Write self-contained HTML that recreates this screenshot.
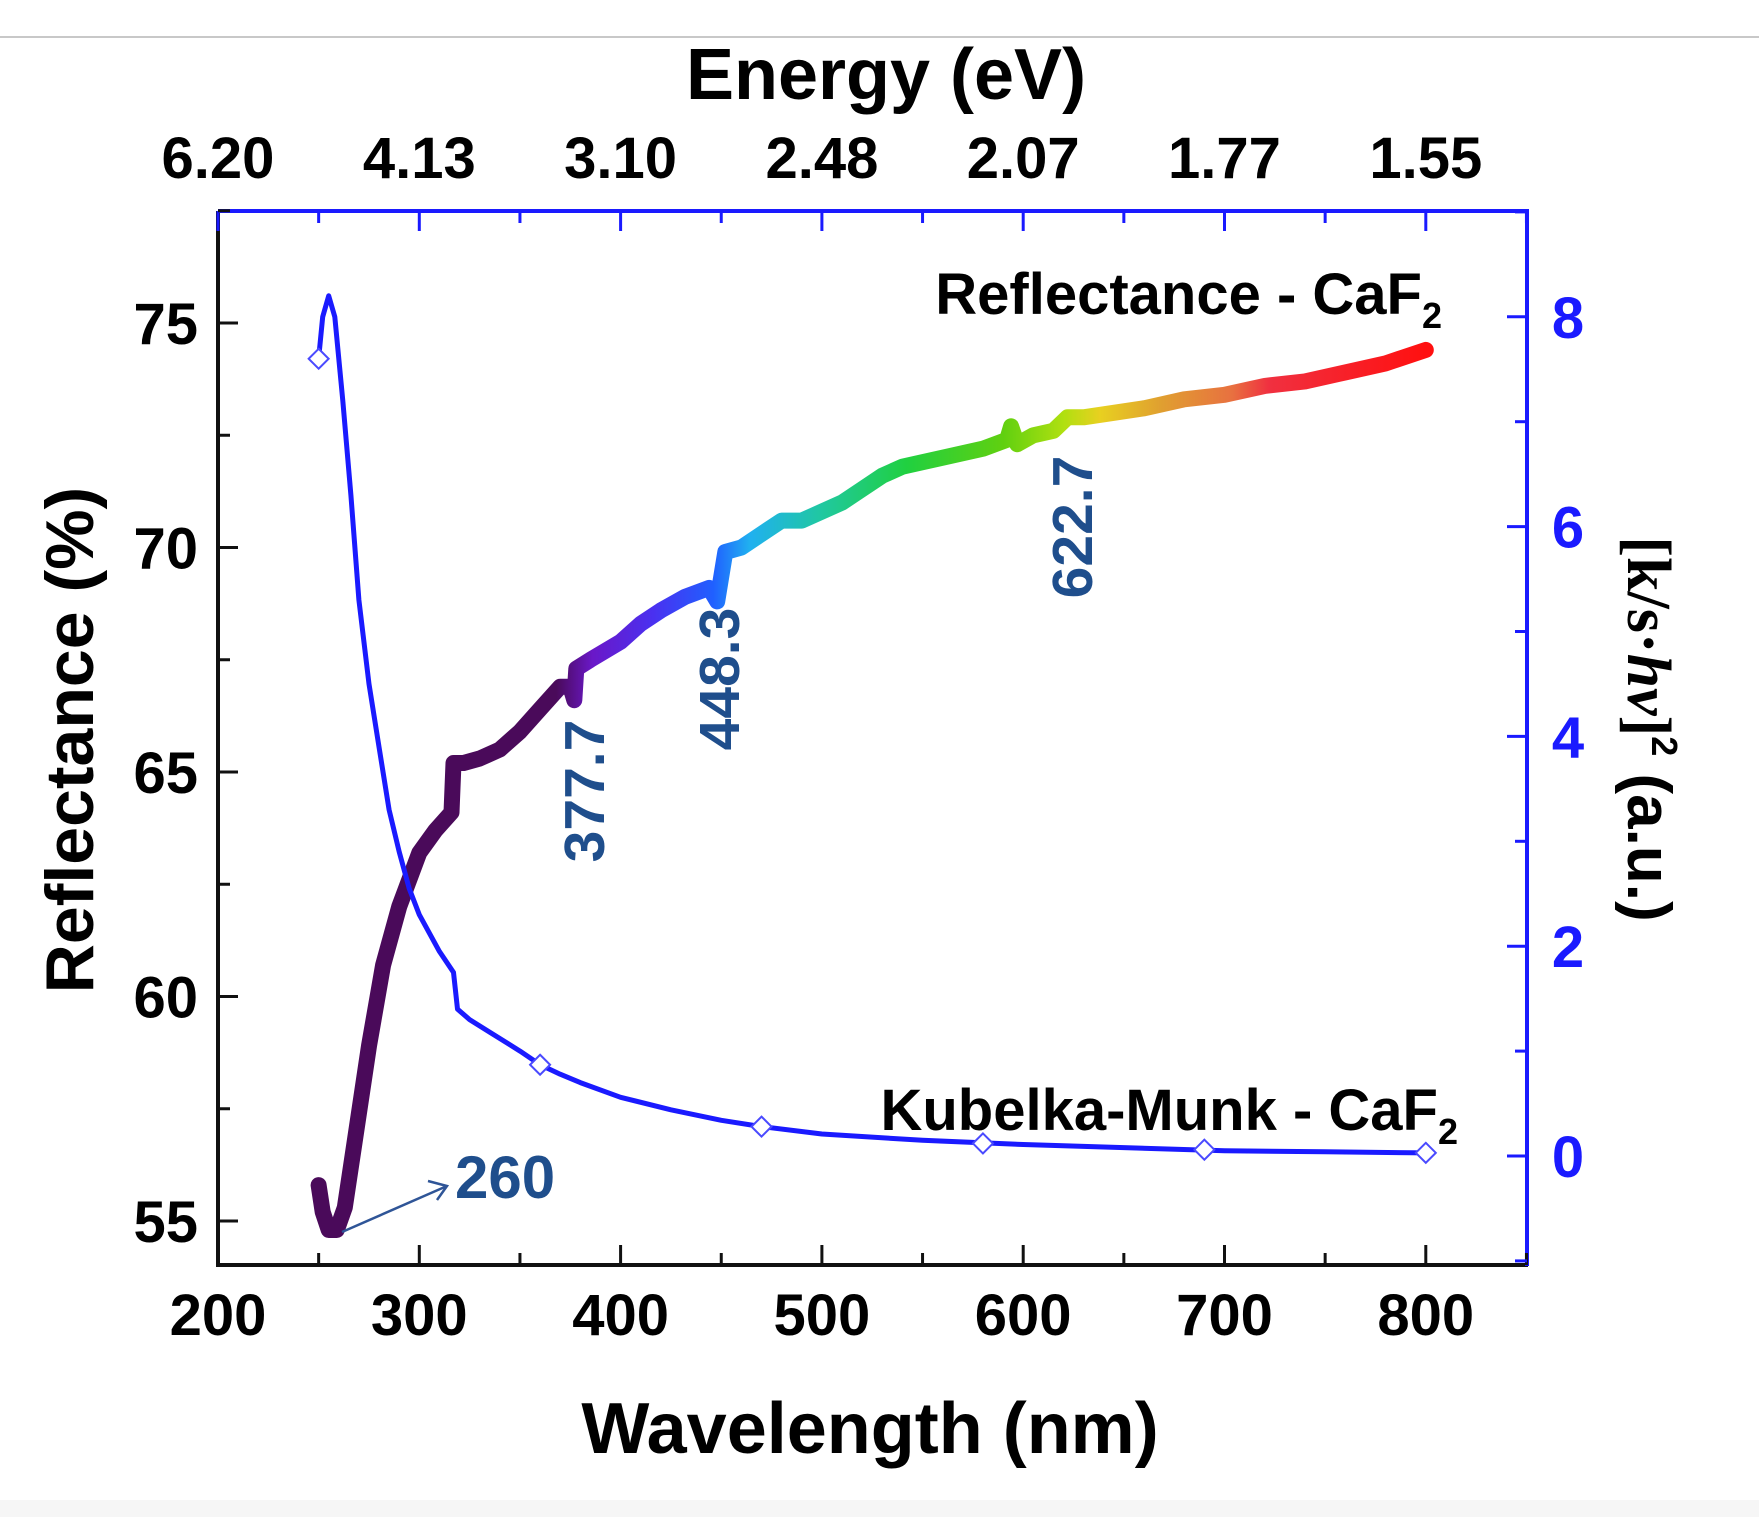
<!DOCTYPE html>
<html><head><meta charset="utf-8"><style>
html,body{margin:0;padding:0;background:#fff;}
svg{display:block;font-family:"Liberation Sans",Arial,sans-serif;font-weight:bold;}
</style></head><body>
<svg id="s" width="1759" height="1517" viewBox="0 0 1759 1517" xmlns="http://www.w3.org/2000/svg">
<defs>
<linearGradient id="rg" gradientUnits="userSpaceOnUse" x1="218" y1="0" x2="1426" y2="0">
<stop offset="0" stop-color="#4a0a5a"/>
<stop offset="0.28" stop-color="#4a0a5a"/>
<stop offset="0.31" stop-color="#6a18c8"/>
<stop offset="0.36" stop-color="#4a30f0"/>
<stop offset="0.41" stop-color="#2060ff"/>
<stop offset="0.44" stop-color="#20b0f0"/>
<stop offset="0.50" stop-color="#20c8a0"/>
<stop offset="0.57" stop-color="#20d040"/>
<stop offset="0.65" stop-color="#60d010"/>
<stop offset="0.70" stop-color="#b0e010"/>
<stop offset="0.73" stop-color="#e8d020"/>
<stop offset="0.78" stop-color="#e0a030"/>
<stop offset="0.84" stop-color="#e87040"/>
<stop offset="0.87" stop-color="#f03040"/>
<stop offset="1" stop-color="#ff1010"/>
</linearGradient>
</defs>
<rect width="1759" height="1517" fill="#fff"/>
<line x1="0" y1="37" x2="1759" y2="37" stroke="#c8c8c8" stroke-width="2"/>
<rect x="0" y="1500" width="1759" height="17" fill="#f6f6f6"/>
<g id="axes"></g>
<g id="curves"></g>
<text x="886" y="99" font-size="72" text-anchor="middle">Energy (eV)</text>
<text x="870" y="1453" font-size="72" text-anchor="middle">Wavelength (nm)</text>
<text transform="translate(93,740) rotate(-90)" font-size="68" text-anchor="middle">Reflectance (%)</text>
<text transform="translate(1628,729) rotate(90)" font-size="62" text-anchor="middle"><tspan font-family="Liberation Serif,serif">[k/s·<tspan font-style="italic">hv</tspan>]</tspan><tspan font-size="36" dy="-24">2</tspan><tspan dy="24">  (a.u.)</tspan></text>
<text x="1442" y="314" font-size="58" text-anchor="end">Reflectance - CaF<tspan font-size="36" dy="14">2</tspan></text>
<text x="1458" y="1130" font-size="58" text-anchor="end">Kubelka-Munk - CaF<tspan font-size="36" dy="14">2</tspan></text>
<g fill="#1f4e8c" font-size="57">
<text transform="translate(604,791) rotate(-90)" text-anchor="middle">377.7</text>
<text transform="translate(739,679) rotate(-90)" text-anchor="middle">448.3</text>
<text transform="translate(1092,527) rotate(-90)" text-anchor="middle">622.7</text>
<text x="455" y="1198" font-size="60">260</text>
</g>
<line x1="342" y1="1232" x2="447" y2="1186" stroke="#2f5597" stroke-width="2.5"/>
<polyline points="428,1181 447,1186 437,1200" fill="none" stroke="#2f5597" stroke-width="2.5"/>
</svg>
<script>
const NS="http://www.w3.org/2000/svg";
const X=w=>218+2.013*(w-200), YL=r=>1221-(r-55)*44.9, YR=v=>1156-v*104.9;
const ax=document.getElementById('axes'), cv=document.getElementById('curves');
function el(p,t,a,txt){const e=document.createElementNS(NS,t);for(const k in a)e.setAttribute(k,a[k]);if(txt!==undefined)e.textContent=txt;p.appendChild(e);return e;}
el(ax,'line',{x1:218,y1:211,x2:218,y2:1266,stroke:'#111','stroke-width':4});
el(ax,'line',{x1:216,y1:1265,x2:1528,y2:1265,stroke:'#111','stroke-width':4});
el(ax,'line',{x1:218,y1:211,x2:1529,y2:211,stroke:'#1a1aff','stroke-width':4});
el(ax,'line',{x1:1527,y1:209,x2:1527,y2:1266,stroke:'#1a1aff','stroke-width':4});
for(let w=200;w<=850;w+=50){const x=X(w),maj=w%100==0;
 el(ax,'line',{x1:x,y1:1265,x2:x,y2:1265-(maj?20:12),stroke:'#111','stroke-width':3});
 el(ax,'line',{x1:x,y1:211,x2:x,y2:211+(maj?20:12),stroke:'#1a1aff','stroke-width':3});}
const eng={200:'6.20',300:'4.13',400:'3.10',500:'2.48',600:'2.07',700:'1.77',800:'1.55'};
for(const w in eng){el(ax,'text',{x:X(+w),y:1335,'font-size':58,'text-anchor':'middle'},w);
 el(ax,'text',{x:X(+w),y:178,'font-size':58,'text-anchor':'middle'},eng[w]);}
for(let r=55;r<=77.5;r+=2.5){const y=YL(r),maj=r%5==0;
 el(ax,'line',{x1:218,y1:y,x2:218+(maj?20:12),y2:y,stroke:'#111','stroke-width':3});
 if(maj)el(ax,'text',{x:198,y:y+21,'font-size':58,'text-anchor':'end'},r);}
for(let v=-1;v<=9;v+=1){const y=YR(v),maj=v%2==0;
 el(ax,'line',{x1:1527,y1:y,x2:1527-(maj?20:12),y2:y,stroke:'#1a1aff','stroke-width':3});
 if(maj&&v>=0)el(ax,'text',{x:1568,y:y+21,'font-size':58,'text-anchor':'middle',fill:'#1a1aff'},v);}
const R=[[250,55.8],[252,55.2],[255,54.8],[259,54.8],[263,55.3],[268,56.8],[275,58.9],[282,60.7],[290,62.0],[300,63.2],[308,63.7],[316,64.1],[317,65.2],[322,65.2],[330,65.3],[340,65.5],[350,65.9],[360,66.4],[370,66.9],[375,66.9],[377,66.6],[378,67.3],[385,67.5],[400,67.9],[410,68.3],[420,68.6],[432,68.9],[444,69.1],[448,68.8],[452,69.9],[460,70.0],[470,70.3],[480,70.6],[490,70.6],[500,70.8],[510,71.0],[520,71.3],[530,71.6],[540,71.8],[550,71.9],[560,72.0],[570,72.1],[580,72.2],[592,72.4],[594,72.7],[597,72.3],[605,72.5],[615,72.6],[622,72.9],[630,72.9],[645,73.0],[660,73.1],[680,73.3],[700,73.4],[720,73.6],[740,73.7],[760,73.9],[780,74.1],[800,74.4]];
el(cv,'path',{d:'M'+R.map(p=>X(p[0]).toFixed(1)+','+YL(p[1]).toFixed(1)).join(' L'),fill:'none',stroke:'url(#rg)','stroke-width':16,'stroke-linejoin':'round','stroke-linecap':'round'});
const K=[[250,7.6],[252,8.0],[255,8.2],[258,8.0],[262,7.2],[266,6.3],[270,5.3],[275,4.5],[280,3.9],[285,3.3],[290,2.9],[295,2.55],[300,2.3],[310,1.95],[317,1.75],[319,1.4],[325,1.3],[335,1.18],[350,1.0],[360,0.87],[370,0.78],[380,0.7],[400,0.56],[425,0.44],[450,0.34],[470,0.28],[500,0.21],[550,0.15],[600,0.11],[650,0.08],[700,0.05],[750,0.04],[800,0.03]];
el(cv,'path',{d:'M'+K.map(p=>X(p[0]).toFixed(1)+','+YR(p[1]).toFixed(1)).join(' L'),fill:'none',stroke:'#1a1aff','stroke-width':5,'stroke-linejoin':'round'});
for(const [w,v] of [[250,7.6],[360,0.87],[470,0.28],[580,0.12],[690,0.06],[800,0.03]]){const x=X(w),y=YR(v);
 el(cv,'polygon',{points:`${x},${y-10} ${x+10},${y} ${x},${y+10} ${x-10},${y}`,fill:'#fff',stroke:'#4a4aff','stroke-width':2});}
</script>
</body></html>
